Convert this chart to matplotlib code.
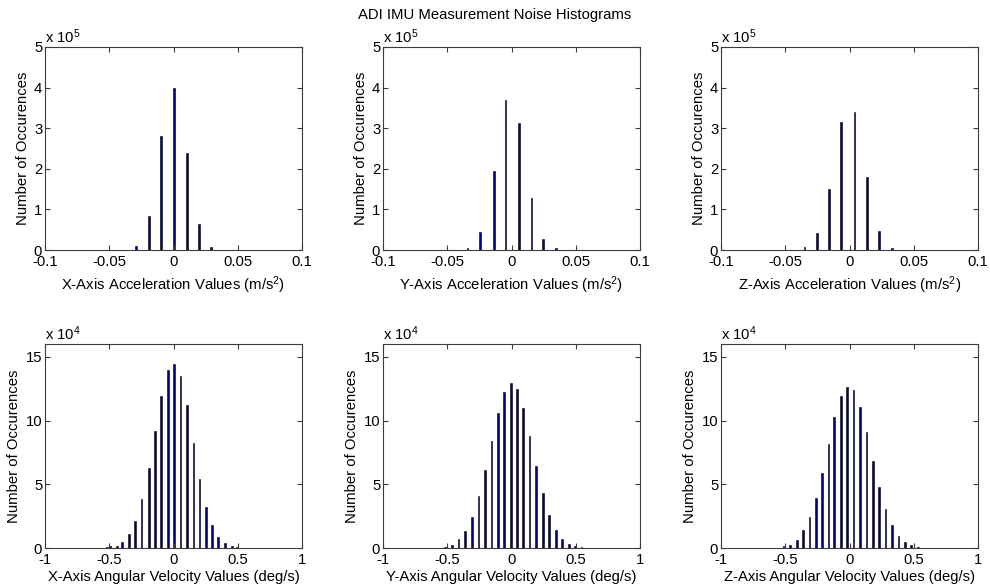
import matplotlib
matplotlib.use("Agg")
import matplotlib.pyplot as plt
from matplotlib.ticker import FuncFormatter

plt.rcParams['font.family'] = ['Liberation Sans', 'DejaVu Sans']
plt.rcParams['mathtext.fontset'] = 'custom'
plt.rcParams['mathtext.rm'] = 'Liberation Sans'
plt.rcParams['mathtext.it'] = 'Liberation Sans:italic'
plt.rcParams['mathtext.bf'] = 'Liberation Sans:bold'

# ---- accelerometer noise histograms (bin centres in m/s^2, counts) ----
acc_x_centers = [-0.0500, -0.0395, -0.0293, -0.0190, -0.0096, 0.0003, 0.0103, 0.0197, 0.0293, 0.0398]
acc_x_counts = [1200, 500, 10000, 84000, 281000, 399000, 239000, 63000, 7000, 500]

acc_y_centers = [-0.0510, -0.0432, -0.0341, -0.0245, -0.0135, -0.0047, 0.0060, 0.0156, 0.0245, 0.0346, 0.0440]
acc_y_counts = [800, 600, 4000, 44000, 195000, 370000, 312000, 128000, 27000, 4000, 600]

acc_z_centers = [-0.0504, -0.0440, -0.0350, -0.0255, -0.0161, -0.0065, 0.0039, 0.0135, 0.0229, 0.0332, 0.0429]
acc_z_counts = [700, 600, 7000, 42000, 150000, 316000, 340000, 179000, 47000, 6000, 600]

# ---- gyroscope noise histograms (bin centres in deg/s, counts) ----
gyro_x_centers = [-0.792, -0.758, -0.727, -0.693, -0.660, -0.626, -0.592, -0.558, -0.519,
                  -0.494, -0.442, -0.400, -0.345, -0.299, -0.249, -0.192, -0.145, -0.096,
                  -0.044, 0.005, 0.055, 0.106, 0.156, 0.203, 0.252, 0.301, 0.348, 0.403,
                  0.455, 0.492, 0.531, 0.564, 0.598, 0.629, 0.663, 0.694]
gyro_x_counts = [150, 150, 150, 150, 150, 150, 150, 150, 500,
                 1300, 1800, 4700, 10700, 21200, 38700, 63100, 91900, 119400,
                 139300, 144200, 134800, 111800, 82700, 54200, 32500, 17800, 8400, 3900,
                 1600, 600, 150, 150, 150, 150, 150, 150]

gyro_y_centers = [-0.856, -0.823, -0.789, -0.758, -0.721, -0.687, -0.653, -0.622, -0.583, -0.552,
                  -0.518, -0.463, -0.413, -0.359, -0.306, -0.257, -0.207, -0.155, -0.106,
                  -0.056, -0.0065, 0.043, 0.090, 0.140, 0.190, 0.244, 0.290, 0.345, 0.395,
                  0.445, 0.497, 0.544, 0.581, 0.628, 0.680, 0.732, 0.784, 0.831]
gyro_y_counts = [150, 150, 150, 150, 150, 150, 150, 150, 150, 150,
                 800, 2400, 7100, 13600, 24600, 40600, 61300, 84000, 106000,
                 122300, 129600, 124900, 110000, 88200, 64700, 43500, 26200, 14400, 7300,
                 3400, 1600, 500, 150, 150, 150, 150, 150, 150]

gyro_z_centers = [-0.811, -0.774, -0.741, -0.707, -0.671, -0.637, -0.603, -0.567,
                  -0.513, -0.466, -0.409, -0.360, -0.311, -0.262, -0.212, -0.163, -0.119,
                  -0.067, -0.018, 0.031, 0.080, 0.132, 0.181, 0.231, 0.280, 0.329, 0.381,
                  0.433, 0.479, 0.531, 0.574, 0.616, 0.660, 0.699, 0.738, 0.777]
gyro_z_counts = [150, 150, 150, 150, 150, 150, 150, 150,
                 1300, 2600, 6500, 13900, 24100, 39300, 59200, 81200, 103100,
                 119100, 126400, 124300, 110700, 90600, 68600, 47600, 30400, 18300, 9400,
                 4700, 2100, 1000, 150, 150, 150, 150, 150, 150]

acc_xlabels = ['X-Axis Acceleration Values (m/s$^{2}$)',
               'Y-Axis Acceleration Values (m/s$^{2}$)',
               'Z-Axis Acceleration Values (m/s$^{2}$)']
gyro_xlabels = ['X-Axis Angular Velocity Values (deg/s)',
                'Y-Axis Angular Velocity Values (deg/s)',
                'Z-Axis Angular Velocity Values (deg/s)']
acc_xticks = [-0.1, -0.05, 0, 0.05, 0.1]
gyro_xticks = [-1, -0.5, 0, 0.5, 1]
acc_yticks = [0, 1e5, 2e5, 3e5, 4e5, 5e5]
gyro_yticks = [0, 5e4, 10e4, 15e4]

title = 'ADI IMU Measurement Noise Histograms'
ylabel = 'Number of Occurences'

BAR_FACE = '#000080'
SPINE = '#3c3c3c'
FS = 10.7

fig = plt.figure(figsize=(9.9, 5.86), dpi=100, facecolor='white')

W, H = 990.0, 586.0
col_left = [45, 383, 721]
col_width = 257
top_row = (47, 250)
bot_row = (344, 548)


def make_axes(left_px, rows):
    top, bottom = rows
    return fig.add_axes([left_px / W, 1 - bottom / H, col_width / W, (bottom - top) / H])


def style(ax, xticks, yticks, xlim, ylim, scale, exponent, xlabel, xlabelpad):
    ax.set_xlim(*xlim)
    ax.set_ylim(*ylim)
    ax.set_xticks(xticks)
    ax.set_yticks(yticks)
    ax.xaxis.set_major_formatter(FuncFormatter(lambda v, p: f'{v:g}'))
    ax.yaxis.set_major_formatter(FuncFormatter(lambda v, p: f'{v / scale:g}'))
    ax.tick_params(direction='in', length=3.5, width=0.8, color=SPINE,
                   top=True, right=True, labelsize=FS)
    ax.tick_params(axis='x', pad=3.5)
    ax.tick_params(axis='y', pad=2)
    for s in ax.spines.values():
        s.set_color(SPINE)
        s.set_linewidth(0.8)
    ax.set_xlabel(xlabel, fontsize=FS, labelpad=xlabelpad)
    ax.set_ylabel(ylabel, fontsize=FS, labelpad=3)
    ax.text(0.0, 1.005, 'x 10$^{\\mathrm{%d}}$' % exponent, transform=ax.transAxes,
            ha='left', va='bottom', fontsize=FS)


acc_sets = [(acc_x_centers, acc_x_counts), (acc_y_centers, acc_y_counts),
            (acc_z_centers, acc_z_counts)]
gyro_sets = [(gyro_x_centers, gyro_x_counts), (gyro_y_centers, gyro_y_counts),
             (gyro_z_centers, gyro_z_counts)]

for i, (centers, counts) in enumerate(acc_sets):
    ax = make_axes(col_left[i], top_row)
    ax.bar(centers, counts, width=0.0012, color=BAR_FACE, edgecolor='black', linewidth=0.4)
    style(ax, acc_xticks, acc_yticks, (-0.1, 0.1), (0, 5e5), 1e5, 5, acc_xlabels[i], 4)

for i, (centers, counts) in enumerate(gyro_sets):
    ax = make_axes(col_left[i], bot_row)
    ax.bar(centers, counts, width=0.014, color=BAR_FACE, edgecolor='black', linewidth=0.4)
    style(ax, gyro_xticks, gyro_yticks, (-1, 1), (0, 16e4), 1e4, 4, gyro_xlabels[i], 2)

fig.text(0.5, 1 - 15 / H, title, ha='center', va='center', fontsize=FS)

fig.savefig('out.png', dpi=100, facecolor='white')
